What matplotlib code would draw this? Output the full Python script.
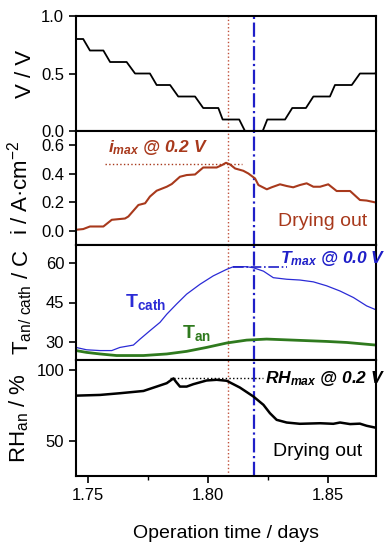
import matplotlib
matplotlib.use("Agg")
import matplotlib.pyplot as plt
from matplotlib.ticker import FixedLocator

plt.rcParams['font.family'] = ['Liberation Sans', 'DejaVu Sans']
plt.rcParams['mathtext.fontset'] = 'custom'
plt.rcParams['mathtext.rm'] = 'Liberation Sans'
plt.rcParams['mathtext.it'] = 'Liberation Sans:italic:bold'
plt.rcParams['mathtext.bf'] = 'Liberation Sans:bold'

# ---- data ----
v_time = [1.745, 1.748, 1.7508, 1.7564, 1.7592, 1.7661, 1.7696, 1.7758, 1.7786, 1.7842,
          1.7876, 1.7946, 1.798, 1.8043, 1.8061, 1.813, 1.8154, 1.8228, 1.8247, 1.8321,
          1.8351, 1.8408, 1.8439, 1.8508, 1.8529, 1.8599, 1.8633, 1.8696, 1.8703]
v_vals = [0.8, 0.8, 0.7, 0.7, 0.6, 0.6, 0.5, 0.5, 0.4, 0.4,
          0.3, 0.3, 0.2, 0.2, 0.1, 0.1, 0.0, 0.0, 0.1, 0.1,
          0.2, 0.2, 0.3, 0.3, 0.4, 0.4, 0.5, 0.5, 0.52]

i_time = [1.745, 1.748, 1.7508, 1.7564, 1.7599, 1.7654, 1.7668, 1.771, 1.7738, 1.7758,
          1.7786, 1.7828, 1.7849, 1.7883, 1.7911, 1.7946, 1.798, 1.8036, 1.8057, 1.8075,
          1.8092, 1.8113, 1.8147, 1.8168, 1.8196, 1.821, 1.8245, 1.8265, 1.83, 1.8328,
          1.8355, 1.8383, 1.8411, 1.8439, 1.8467, 1.8501, 1.8536, 1.8592, 1.8633, 1.8661, 1.87]
i_vals = [0.007, 0.012, 0.030, 0.030, 0.077, 0.086, 0.100, 0.181, 0.193, 0.240,
          0.281, 0.309, 0.328, 0.379, 0.391, 0.395, 0.444, 0.444, 0.460, 0.477,
          0.465, 0.437, 0.421, 0.402, 0.367, 0.321, 0.291, 0.305, 0.326, 0.314,
          0.305, 0.321, 0.333, 0.309, 0.309, 0.326, 0.279, 0.279, 0.216, 0.212, 0.198]

tc_time = [1.745, 1.7494, 1.755, 1.7599, 1.7633, 1.7689, 1.7717, 1.7758, 1.78, 1.7828,
           1.7869, 1.7911, 1.7967, 1.8022, 1.8078, 1.8106, 1.8161, 1.8189, 1.8231, 1.8272,
           1.8328, 1.8383, 1.8439, 1.8494, 1.855, 1.8606, 1.8661, 1.87]
tc_vals = [27.8, 26.9, 26.6, 26.6, 27.8, 28.7, 31.0, 34.2, 37.4, 40.5,
           44.4, 48.2, 52.0, 55.2, 57.7, 58.7, 58.7, 58.3, 57.0, 54.5,
           53.9, 53.6, 52.9, 51.4, 49.4, 46.9, 43.7, 42.2]

ta_time = [1.745, 1.7494, 1.755, 1.7619, 1.7731, 1.7828, 1.7911, 1.7994, 1.8078, 1.8161,
           1.8244, 1.8328, 1.8411, 1.8494, 1.8578, 1.87]
ta_vals = [26.6, 25.9, 25.3, 24.7, 24.7, 25.3, 26.3, 27.8, 29.5, 30.6,
           31.0, 30.7, 30.4, 30.1, 29.7, 28.7]

rh_time = [1.745, 1.755, 1.7633, 1.7731, 1.7786, 1.7828, 1.7856, 1.7867, 1.7883, 1.7911,
           1.7939, 1.7994, 1.8036, 1.8078, 1.8133, 1.8189, 1.8231, 1.8258, 1.8286, 1.8328,
           1.8383, 1.8467, 1.8522, 1.855, 1.8592, 1.8633, 1.8661, 1.87]
rh_vals = [81.8, 82.3, 83.5, 85.1, 88.2, 90.6, 94.0, 91.5, 88.2, 88.2,
           89.9, 92.5, 93.0, 92.3, 87.5, 81.2, 75.3, 69.4, 64.7, 62.8,
           61.9, 62.3, 61.9, 62.8, 61.7, 62.0, 60.5, 59.1]

t_red = 1.8082     # i max (0.2 V)
t_blue = 1.8192    # T max (0.0 V)
i_max = 0.472
t_max = 58.7
rh_max = 94.0

red = '#a8391c'
blue = '#2b2bd6'
green = '#2f7a1e'

fig = plt.figure(figsize=(3.87, 5.5), dpi=100)
L, W = 0.1964, 0.7752
bounds = [0.9709, 0.7618, 0.5545, 0.3455, 0.1345]
axes = []
for k in range(4):
    ax = fig.add_axes([L, bounds[k + 1], W, bounds[k] - bounds[k + 1]])
    axes.append(ax)
    ax.set_xlim(1.745, 1.87)
    ax.xaxis.set_major_locator(FixedLocator([1.75, 1.80, 1.85]))
    ax.xaxis.set_minor_locator(FixedLocator([1.775, 1.825]))
    ax.tick_params(axis='both', which='major', direction='out', length=5, width=1.2, labelsize=12)
    ax.tick_params(axis='x', which='minor', direction='out', length=3, width=1.0)
    for s in ax.spines.values():
        s.set_linewidth(1.5)
    if k < 3:
        ax.tick_params(axis='x', labelbottom=False)
    ax.axvline(t_red, color='#c0503a', ls=':', lw=1.0)
    ax.axvline(t_blue, color='#1f1fc8', ls='-.', lw=1.6)

ax1, ax2, ax3, ax4 = axes

# panel 1: voltage
ax1.plot(v_time, v_vals, color='black', lw=1.3)
ax1.set_ylim(0, 1.0)
ax1.set_yticks([0.0, 0.5, 1.0])
ax1.set_yticklabels(['0.0', '0.5', '1.0'])
ax1.set_ylabel('V / V', fontsize=16, va='baseline')
ax1.yaxis.set_label_coords(-0.15, 0.5)

# panel 2: current density
ax2.plot(i_time, i_vals, color=red, lw=1.5)
ax2.hlines(i_max, 1.7571, 1.8142, color=red, ls=':', lw=1.0)
ax2.set_ylim(-0.1, 0.7)
ax2.set_yticks([0.0, 0.2, 0.4, 0.6])
ax2.set_yticklabels(['0.0', '0.2', '0.4', '0.6'])
ax2.set_ylabel('i / A·cm$^{-2}$', fontsize=16, va='baseline')
ax2.yaxis.set_label_coords(-0.163, 0.5)
ax2.text(1.7585, 0.55, r'$i_{max}$ @ 0.2 V', color=red, fontsize=12.5,
         fontweight='bold', style='italic', va='baseline')
ax2.text(1.8292, 0.03, 'Drying out', color=red, fontsize=14, va='baseline')

# panel 3: temperatures
ax3.plot(tc_time, tc_vals, color=blue, lw=0.9)
ax3.plot(ta_time, ta_vals, color=green, lw=2.0)
ax3.hlines(t_max, 1.8104, 1.8329, color='#1f1fc8', ls='-.', lw=1.2)
ax3.set_ylim(23, 67)
ax3.set_yticks([30, 45, 60])
ax3.set_ylabel(r'T$_{\mathrm{an/\ cath}}$ / C', fontsize=16, va='baseline')
ax3.yaxis.set_label_coords(-0.16, 0.5)
ax3.text(1.830, 60.3, r'$T_{max}$ @ 0.0 V', color='#1f1fc8', fontsize=12.5,
         fontweight='bold', style='italic', va='baseline')
ax3.text(1.7654, 43.1, r'$\mathbf{T_{cath}}$', color=blue, fontsize=14, va='baseline')
ax3.text(1.7892, 31.3, r'$\mathbf{T_{an}}$', color=green, fontsize=14, va='baseline')

# panel 4: anode RH
ax4.plot(rh_time, rh_vals, color='black', lw=1.8)
ax4.hlines(rh_max, 1.7842, 1.8229, color='black', ls=':', lw=1.0)
ax4.set_ylim(25, 107)
ax4.set_yticks([50, 100])
ax4.set_ylabel(r'RH$_{\mathrm{an}}$ / %', fontsize=16, va='baseline')
ax4.yaxis.set_label_coords(-0.17, 0.5)
ax4.text(1.8238, 90.6, r'$RH_{max}$ @ 0.2 V', color='black', fontsize=12.5,
         fontweight='bold', style='italic', va='baseline')
ax4.text(1.8271, 39.2, 'Drying out', color='black', fontsize=14, va='baseline')
ax4.set_xticklabels(['1.75', '1.80', '1.85'])
ax4.set_xlabel('Operation time / days', fontsize=14, labelpad=16)

fig.savefig('out.png', dpi=100)
